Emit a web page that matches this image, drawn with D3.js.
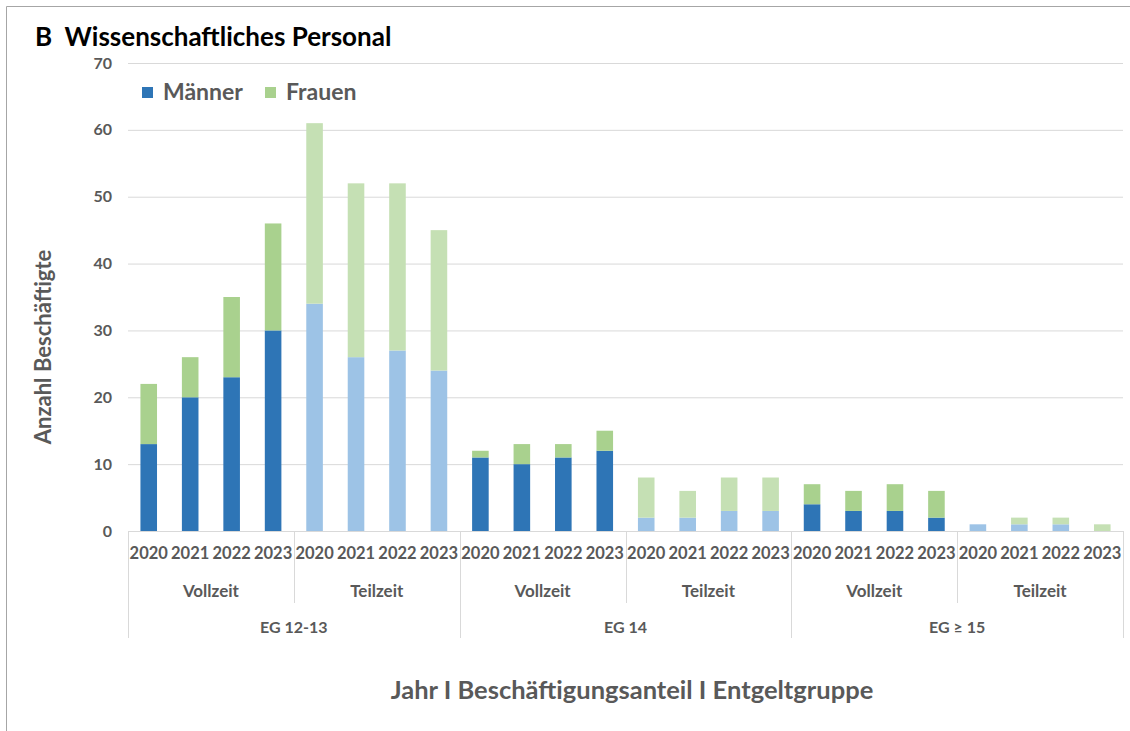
<!DOCTYPE html>
<html>
<head>
<meta charset="utf-8">
<script src="https://cdn.jsdelivr.net/npm/d3@7"></script>
<style>
  html, body { margin: 0; padding: 0; background: #fff; }
  svg { display: block; font-family: Lato, "Open Sans", sans-serif; }
</style>
</head>
<body>
<svg id="chart" width="1130" height="731"></svg>
<script>
// Staff counts per pay group, employment type and year
const groups = ["EG 12-13", "EG 14", "EG \u2265 15"];
const types = ["Vollzeit", "Teilzeit"];
const years = ["2020", "2021", "2022", "2023"];
const maenner = [13, 20, 23, 30, 34, 26, 27, 24, 11, 10, 11, 12, 2, 2, 3, 3, 4, 3, 3, 2, 1, 1, 1, 0];
const frauen  = [ 9,  6, 12, 16, 27, 26, 25, 21,  1,  3,  2,  3, 6, 4, 5, 5, 3, 3, 4, 4, 0, 1, 1, 1];
const yTicks = [0, 10, 20, 30, 40, 50, 60, 70];

const colors = {
  Vollzeit: { m: "#2E75B6", f: "#A9D18E" },
  Teilzeit: { m: "#9DC3E6", f: "#C5E0B4" }
};

// Flatten categories in drawing order
const rows = [];
groups.forEach((g, gi) => types.forEach((t, ti) => years.forEach((yr, yi) => {
  const i = rows.length;
  rows.push({ key: i, group: g, type: t, year: yr, m: maenner[i], f: frauen[i] });
})));

const svg = d3.select("#chart");
const plotL = 128, plotR = 1123, plotT = 63, plotB = 531;

const x = d3.scaleBand().domain(rows.map(d => d.key)).range([plotL, plotR]).paddingInner(0.6).paddingOuter(0.3);
const slot = (plotR - plotL) / rows.length;
const y = d3.scaleLinear().domain([0, 70]).range([plotB, plotT]);

// Outer frame (top and left edges)
svg.append("path").attr("d", "M6.5,731 V6.5 H1130").attr("fill", "none").attr("stroke", "#A6A6A6").attr("stroke-width", 1);

// Title
svg.append("text").attr("x", 35).attr("y", 46).attr("font-size", 26).attr("font-weight", 700).attr("fill", "#000")
  .attr("xml:space", "preserve").text("B  Wissenschaftliches Personal");

// Gridlines and y tick labels
const yAxis = d3.axisLeft(y).tickValues(yTicks).tickSize(-(plotR - plotL)).tickPadding(16);
const ya = svg.append("g").attr("transform", `translate(${plotL},0)`).call(yAxis);
ya.select(".domain").remove();
ya.selectAll(".tick line").attr("stroke", "#D9D9D9").attr("stroke-width", 1);
ya.selectAll(".tick text").attr("fill", "#595959").attr("font-size", 16).attr("font-weight", 700)
  .attr("font-family", "Lato, sans-serif");

// Stacked bars
const bars = svg.append("g");
rows.forEach(d => {
  const c = colors[d.type];
  bars.append("rect").attr("x", x(d.key)).attr("width", x.bandwidth())
    .attr("y", y(d.m)).attr("height", y(0) - y(d.m)).attr("fill", c.m);
  bars.append("rect").attr("x", x(d.key)).attr("width", x.bandwidth())
    .attr("y", y(d.m + d.f)).attr("height", y(d.m) - y(d.m + d.f)).attr("fill", c.f);
});

// Baseline
svg.append("line").attr("x1", plotL).attr("x2", plotR).attr("y1", plotB + 0.5).attr("y2", plotB + 0.5)
  .attr("stroke", "#D9D9D9");

// Multi-level category axis
const axisG = svg.append("g").attr("fill", "#595959").attr("font-weight", 700);
rows.forEach(d => {
  axisG.append("text").attr("x", x(d.key) + x.bandwidth() / 2).attr("y", plotB + 28)
    .attr("text-anchor", "middle").attr("font-size", 16.5).text(d.year);
});
const nT = years.length, nG = types.length * years.length;
groups.forEach((g, gi) => {
  types.forEach((t, ti) => {
    const x0 = plotL + (gi * nG + ti * nT) * slot;
    axisG.append("text").attr("x", x0 + nT * slot / 2).attr("y", plotB + 66)
      .attr("text-anchor", "middle").attr("font-size", 17).text(t);
    if (ti > 0) {
      svg.append("line").attr("x1", Math.round(x0) + 0.5).attr("x2", Math.round(x0) + 0.5)
        .attr("y1", plotB).attr("y2", plotB + 72).attr("stroke", "#D9D9D9");
    }
  });
  const gx = plotL + gi * nG * slot;
  axisG.append("text").attr("x", gx + nG * slot / 2).attr("y", plotB + 102)
    .attr("text-anchor", "middle").attr("font-size", 16).text(g);
});
for (let gi = 0; gi <= groups.length; gi++) {
  const gx = Math.round(plotL + gi * nG * slot) + 0.5;
  svg.append("line").attr("x1", gx).attr("x2", gx).attr("y1", plotB).attr("y2", plotB + 107)
    .attr("stroke", "#D9D9D9");
}

// Axis titles
svg.append("text").attr("x", 632).attr("y", 699).attr("text-anchor", "middle")
  .attr("font-size", 25.5).attr("font-weight", 700).attr("fill", "#595959")
  .text("Jahr I Beschäftigungsanteil I Entgeltgruppe");
svg.append("text").attr("transform", "translate(51,347) rotate(-90)").attr("text-anchor", "middle")
  .attr("font-size", 22).attr("font-weight", 700).attr("fill", "#595959")
  .text("Anzahl Beschäftigte");

// Legend
const legend = svg.append("g").attr("font-weight", 700).attr("fill", "#595959");
[["Männer", colors.Vollzeit.m, 142], ["Frauen", colors.Vollzeit.f, 265]].forEach(([label, col, lx]) => {
  legend.append("rect").attr("x", lx).attr("y", 87).attr("width", 11).attr("height", 11).attr("fill", col);
  legend.append("text").attr("x", lx + 21).attr("y", 100).attr("font-size", 23).text(label);
});
</script>
</body>
</html>
